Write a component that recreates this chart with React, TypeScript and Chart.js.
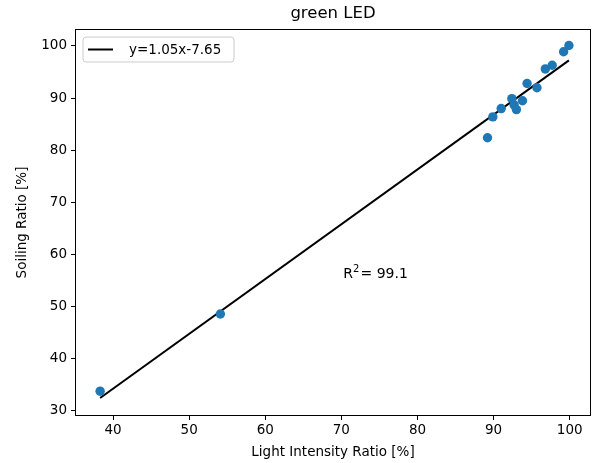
import React, { useEffect, useRef } from "react";
import { Chart, registerables } from "chart.js";

Chart.register(...registerables);

const lightRatio = [38.3, 54.1, 89.2, 89.9, 91.0, 92.4, 92.7, 93.0, 93.8, 94.4, 95.7, 96.8, 97.7, 99.2, 99.9];
const soilingRatio = [33.8, 48.6, 82.4, 86.4, 88.0, 89.9, 88.7, 87.8, 89.5, 92.8, 92.0, 95.6, 96.3, 98.9, 100.1];
const fitX = [38.3, 99.9];
const fitY = [32.5, 97.25];
const xTicks = [40, 50, 60, 70, 80, 90, 100];
const yTicks = [30, 40, 50, 60, 70, 80, 90, 100];
const legendLabel = "y=1.05x-7.65";
const r2Value = "99.1";
const r2Pos = { x: 70, y: 55.6 };

const FONT = "'DejaVu Sans', sans-serif";

export default function App() {
  const ref = useRef<HTMLCanvasElement | null>(null);
  useEffect(() => {
    if (!ref.current) return;
    const framePlugin = {
      id: "frame",
      afterDraw(chart: any) {
        const { ctx, chartArea: a, scales } = chart;
        ctx.save();
        ctx.strokeStyle = "#000";
        ctx.lineWidth = 1;
        ctx.strokeRect(a.left + 0.5, a.top + 0.5, a.right - a.left - 1, a.bottom - a.top - 1);
        // legend
        const lx = a.left + 8, ly = a.top + 8, lw = 151, lh = 25;
        ctx.beginPath();
        const r = 3;
        ctx.moveTo(lx + r, ly);
        ctx.arcTo(lx + lw, ly, lx + lw, ly + lh, r);
        ctx.arcTo(lx + lw, ly + lh, lx, ly + lh, r);
        ctx.arcTo(lx, ly + lh, lx, ly, r);
        ctx.arcTo(lx, ly, lx + lw, ly, r);
        ctx.closePath();
        ctx.fillStyle = "rgba(255,255,255,0.8)";
        ctx.fill();
        ctx.strokeStyle = "#cccccc";
        ctx.stroke();
        ctx.beginPath();
        ctx.strokeStyle = "#000";
        ctx.lineWidth = 2;
        ctx.moveTo(lx + 5, ly + lh / 2);
        ctx.lineTo(lx + 30, ly + lh / 2);
        ctx.stroke();
        ctx.fillStyle = "#000";
        ctx.font = `13.5px ${FONT}`;
        ctx.textBaseline = "middle";
        ctx.textAlign = "left";
        ctx.fillText(legendLabel, lx + 46, ly + lh / 2 + 0.5);
        // R^2 annotation
        const px = scales.x.getPixelForValue(r2Pos.x);
        const py = scales.y.getPixelForValue(r2Pos.y);
        ctx.textBaseline = "alphabetic";
        ctx.font = `14px ${FONT}`;
        ctx.fillText("R", px + 2, py);
        const rw = ctx.measureText("R").width;
        ctx.font = `10px ${FONT}`;
        ctx.fillText("2", px + 2 + rw, py - 6);
        const sw = ctx.measureText("2").width;
        ctx.font = `14px ${FONT}`;
        ctx.fillText("= " + r2Value, px + 3 + rw + sw, py);
        ctx.restore();
      },
    };
    const chart = new Chart(ref.current, {
      type: "scatter",
      data: {
        datasets: [
          {
            type: "line",
            label: legendLabel,
            data: fitX.map((x, i) => ({ x, y: fitY[i] })),
            borderColor: "#000",
            borderWidth: 2,
            pointRadius: 0,
            fill: false,
            order: 1,
          } as any,
          {
            label: "data",
            data: lightRatio.map((x, i) => ({ x, y: soilingRatio[i] })),
            backgroundColor: "#1f77b4",
            borderColor: "#1f77b4",
            borderWidth: 0,
            pointRadius: 4.7,
            order: 0,
          },
        ],
      },
      options: {
        animation: false,
        responsive: false,
        layout: { autoPadding: false, padding: { left: 0, right: 1, top: 0, bottom: 0 } },
        plugins: {
          legend: { display: false },
          tooltip: { enabled: false },
          title: {
            display: true,
            fullSize: false,
            text: "green LED",
            color: "#000",
            font: { family: FONT, size: 16.5, weight: "normal" },
            padding: { top: 4, bottom: 5.2 },
          },
        },
        scales: {
          x: {
            type: "linear",
            min: 35.0,
            max: 102.8,
            afterBuildTicks: (s: any) => {
              s.ticks = xTicks.map((v) => ({ value: v }));
            },
            afterFit: (s: any) => {
              s.height = 47;
              s.paddingLeft = 0;
              s.paddingRight = 0;
            },
            grid: { display: true, drawOnChartArea: false, drawTicks: true, tickLength: 4, color: "#000" },
            border: { display: false },
            ticks: { color: "#000", font: { family: FONT, size: 13.5 }, padding: 2, maxRotation: 0 },
            title: {
              display: true,
              text: "Light Intensity Ratio [%]",
              color: "#000",
              font: { family: FONT, size: 13.5 },
              padding: { top: 0, bottom: 2 },
            },
          },
          y: {
            type: "linear",
            min: 29.04,
            max: 103.26,
            afterBuildTicks: (s: any) => {
              s.ticks = yTicks.map((v) => ({ value: v }));
            },
            afterFit: (s: any) => {
              s.width = 75;
              s.paddingTop = 0;
              s.paddingBottom = 0;
            },
            grid: { display: true, drawOnChartArea: false, drawTicks: true, tickLength: 4, color: "#000" },
            border: { display: false },
            ticks: { color: "#000", font: { family: FONT, size: 13.5 }, padding: 4 },
            title: {
              display: true,
              text: "Soiling Ratio [%]",
              color: "#000",
              font: { family: FONT, size: 13.5 },
              padding: { top: 14, bottom: 0 },
            },
          },
        },
      },
      plugins: [framePlugin],
    });
    return () => chart.destroy();
  }, []);
  return (
    <div style={{ position: "fixed", left: 0, top: 0, width: 592, height: 463, background: "#fff" }}>
      <canvas ref={ref} width={592} height={463} style={{ width: 592, height: 463 }} />
    </div>
  );
}
